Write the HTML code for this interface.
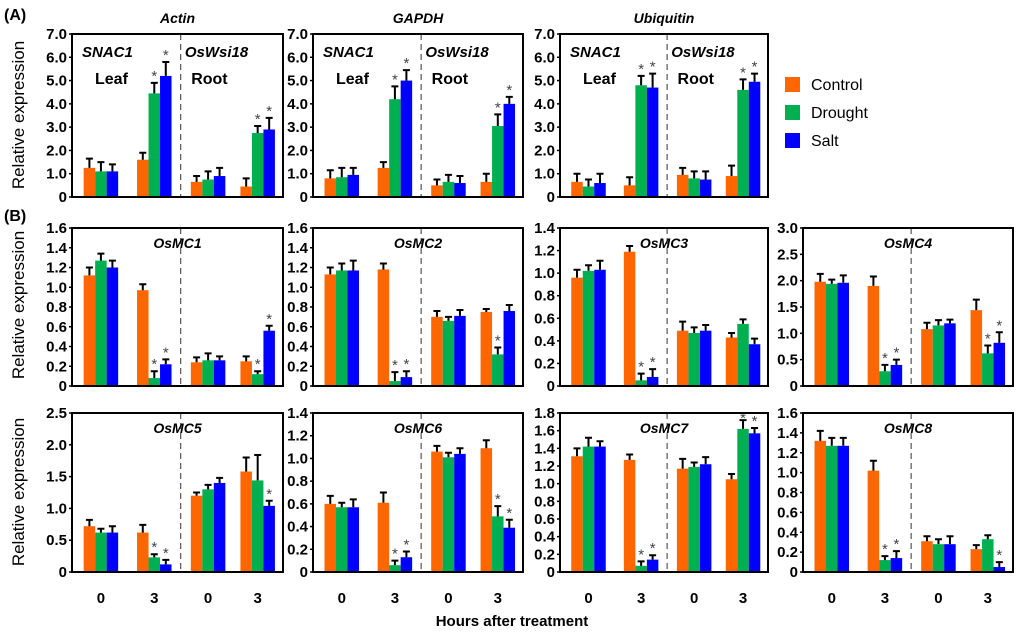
<!DOCTYPE html>
<html><head><meta charset="utf-8"><style>
html,body{margin:0;padding:0;background:#fff;}
svg{display:block;font-family:"Liberation Sans",Arial,sans-serif;}
</style></head><body>
<svg id="chart" width="1024" height="635" viewBox="0 0 1024 635" xmlns="http://www.w3.org/2000/svg">
<text x="4" y="20" font-size="16" font-weight="bold">(A)</text>
<text x="4" y="221" font-size="16" font-weight="bold">(B)</text>
<text x="512" y="626" font-size="15" font-weight="bold" text-anchor="middle">Hours after treatment</text>
<text transform="translate(24,115) rotate(-90)" font-size="17" text-anchor="middle">Relative expression</text>
<text transform="translate(24,305) rotate(-90)" font-size="17" text-anchor="middle">Relative expression</text>
<text transform="translate(24,492) rotate(-90)" font-size="17" text-anchor="middle">Relative expression</text>
<g>
<rect x="785" y="77" width="15" height="15" fill="#ff6600"/>
<text x="811" y="90" font-size="16">Control</text>
<rect x="785" y="105" width="15" height="15" fill="#00b050"/>
<text x="811" y="118" font-size="16">Drought</text>
<rect x="785" y="133" width="15" height="15" fill="#0000ff"/>
<text x="811" y="146" font-size="16">Salt</text>
</g>
</svg>
<script>
const panelNames=["Actin","GAPDH","Ubiquitin","OsMC1","OsMC2","OsMC3","OsMC4","OsMC5","OsMC6","OsMC7","OsMC8"];
const panelMax=[7,7,7,1.6,1.6,1.4,3.0,2.5,1.4,1.8,1.6];
const panelStep=[1,1,1,0.2,0.2,0.2,0.5,0.5,0.2,0.2,0.2];
const groupLabels=["0","3","0","3"];
const controlVals=[[1.25,1.6,0.65,0.45],[0.8,1.25,0.5,0.65],[0.65,0.5,0.95,0.9],[1.12,0.97,0.24,0.25],[1.13,1.18,0.7,0.75],[0.96,1.19,0.49,0.43],[1.98,1.9,1.08,1.44],[0.72,0.62,1.2,1.58],[0.6,0.61,1.06,1.09],[1.31,1.27,1.17,1.05],[1.32,1.02,0.31,0.23]];
const droughtVals=[[1.1,4.45,0.75,2.75],[0.85,4.2,0.65,3.05],[0.45,4.8,0.8,4.6],[1.27,0.08,0.26,0.12],[1.17,0.05,0.66,0.32],[1.02,0.05,0.47,0.55],[1.94,0.28,1.15,0.62],[0.62,0.23,1.3,1.44],[0.57,0.06,1.01,0.49],[1.42,0.07,1.19,1.62],[1.27,0.12,0.28,0.33]];
const saltVals=[[1.1,5.2,0.9,2.9],[0.95,5.0,0.6,4.0],[0.6,4.7,0.75,4.95],[1.2,0.22,0.26,0.56],[1.17,0.09,0.71,0.76],[1.03,0.08,0.49,0.37],[1.96,0.4,1.19,0.82],[0.62,0.12,1.4,1.04],[0.57,0.13,1.04,0.39],[1.42,0.14,1.22,1.57],[1.27,0.14,0.28,0.05]];
const controlErr=[[0.4,0.3,0.25,0.35],[0.35,0.25,0.25,0.35],[0.35,0.35,0.3,0.45],[0.08,0.06,0.05,0.05],[0.07,0.06,0.06,0.03],[0.07,0.05,0.08,0.04],[0.15,0.18,0.12,0.2],[0.1,0.12,0.05,0.22],[0.07,0.09,0.05,0.07],[0.09,0.06,0.11,0.06],[0.1,0.1,0.05,0.04]];
const droughtErr=[[0.4,0.45,0.35,0.3],[0.4,0.55,0.3,0.5],[0.3,0.4,0.3,0.45],[0.07,0.07,0.07,0.03],[0.07,0.09,0.04,0.07],[0.05,0.06,0.05,0.04],[0.08,0.12,0.1,0.15],[0.06,0.05,0.07,0.4],[0.04,0.04,0.04,0.09],[0.1,0.05,0.05,0.1],[0.08,0.04,0.05,0.04]];
const saltErr=[[0.3,0.6,0.35,0.5],[0.3,0.45,0.3,0.3],[0.4,0.6,0.35,0.35],[0.07,0.05,0.04,0.05],[0.1,0.06,0.06,0.06],[0.08,0.07,0.05,0.05],[0.14,0.1,0.07,0.2],[0.1,0.07,0.08,0.08],[0.07,0.05,0.05,0.07],[0.06,0.05,0.08,0.06],[0.08,0.07,0.08,0.05]];
// stars: [group, seriesIndex]
const stars=[[[1,1],[1,2],[3,1],[3,2]],[[1,1],[1,2],[3,1],[3,2]],[[1,1],[1,2],[3,1],[3,2]],[[1,1],[1,2],[3,1],[3,2]],[[1,1],[1,2],[3,1]],[[1,1],[1,2]],[[1,1],[1,2],[3,1],[3,2]],[[1,1],[1,2],[3,2]],[[1,1],[1,2],[3,1],[3,2]],[[1,1],[1,2],[3,1],[3,2]],[[1,1],[1,2],[3,2]]];

const NS="http://www.w3.org/2000/svg";
const svg=document.getElementById("chart");
const colX=[[72,283],[313,523],[560,768],[803,1013]];
const rowY=[[34,197],[228,386],[413,572]];
const layout=[[0,0],[0,1],[0,2],[1,0],[1,1],[1,2],[1,3],[2,0],[2,1],[2,2],[2,3]];
const groupFrac=[0.137,0.39,0.645,0.88];
const colors=["#ff6600","#00b050","#0000ff"];
const seriesNames=["control","drought","salt"];
function mk(tag,attrs,parent){const e=document.createElementNS(NS,tag);for(const k in attrs)e.setAttribute(k,attrs[k]);(parent||svg).appendChild(e);return e;}

panelNames.forEach((name,p)=>{
  const [r,c]=layout[p];
  const x0=colX[c][0],x1=colX[c][1],yTop=rowY[r][0],yBot=rowY[r][1];
  const max=panelMax[p];
  const ys=v=>yBot-(v/max)*(yBot-yTop);
  const xs=f=>x0+f*(x1-x0);
  const g=mk("g",{});
  
  
  const n=Math.round(max/panelStep[p]);
  for(let i=0;i<=n;i++){
    const v=i*panelStep[p];
    const t=mk("text",{x:x0-5,y:ys(v)+5,"font-size":"15","font-weight":"bold","text-anchor":"end"},g);
    t.textContent=i===0?"0":v.toFixed(1);
    
    
    const tl=mk("line",{x1:x0-3,x2:x0,y1:ys(v),y2:ys(v),stroke:"#000","stroke-width":1.5},g);
    
    
  }
  const dl=mk("line",{x1:xs(0.515),x2:xs(0.515),y1:yTop,y2:yBot,stroke:"#555","stroke-width":1.2,"stroke-dasharray":"6,4"},g);
  
  
  const bw=11.5;
  const sets=[controlVals[p],droughtVals[p],saltVals[p]];
  const errs=[controlErr[p],droughtErr[p],saltErr[p]];
  groupFrac.forEach((f,gi)=>{
    const cx=xs(f);
    for(let s=0;s<3;s++){
      const v=sets[s][gi],e=errs[s][gi];
      const bx=cx+(s-1.5)*bw;
      const b=mk("rect",{x:bx,y:ys(v),width:bw,height:yBot-ys(v),fill:colors[s]},g);
      
      
      const mx=bx+bw/2;
      const el=mk("path",{d:`M${mx},${ys(v)}V${ys(v+e)}M${mx-3.5},${ys(v+e)}H${mx+3.5}`,stroke:"#000","stroke-width":2,fill:"none"},g);
      
      
    }
    if(r===2){
      const xl=mk("text",{x:cx,y:603,"font-size":"15","font-weight":"bold","text-anchor":"middle"},g);
      xl.textContent=groupLabels[gi];
      
      
    }
  });
  stars[p].forEach(([gi,s])=>{
    const cx=xs(groupFrac[gi])+(s-1)*bw;
    const v=sets[s][gi]+errs[s][gi];
    const st=mk("text",{x:cx,y:Math.max(ys(v)-2,yTop+10),"font-size":"15","fill":"#444","text-anchor":"middle"},g);
    st.textContent="*";
    
    
  });
  const box=mk("rect",{x:x0,y:yTop,width:x1-x0,height:yBot-yTop,fill:"none",stroke:"#000","stroke-width":2},g);
  
  
  if(r===0){
    const t=mk("text",{x:(x0+x1)/2,y:yTop-11,"font-size":"14","font-weight":"bold","font-style":"italic","text-anchor":"middle"},g);
    t.textContent=name;
    
    
    const labs=[["SNAC1",x0+10,57,true],["Leaf",x0+23,84,false],["OsWsi18",xs(0.535),57,true],["Root",xs(0.565),84,false]];
    labs.forEach(([txt,lx,ly,it])=>{
      const lt=mk("text",{x:lx,y:ly,"font-size":it?"15":"16","font-weight":"bold","font-style":it?"italic":"normal"},g);
      lt.textContent=txt;
      
      
    });
  } else {
    const t=mk("text",{x:(x0+x1)/2,y:yTop+20,"font-size":"14","font-weight":"bold","font-style":"italic","text-anchor":"middle"},g);
    t.textContent=name;
    
    
  }
});
</script>
</body></html>
